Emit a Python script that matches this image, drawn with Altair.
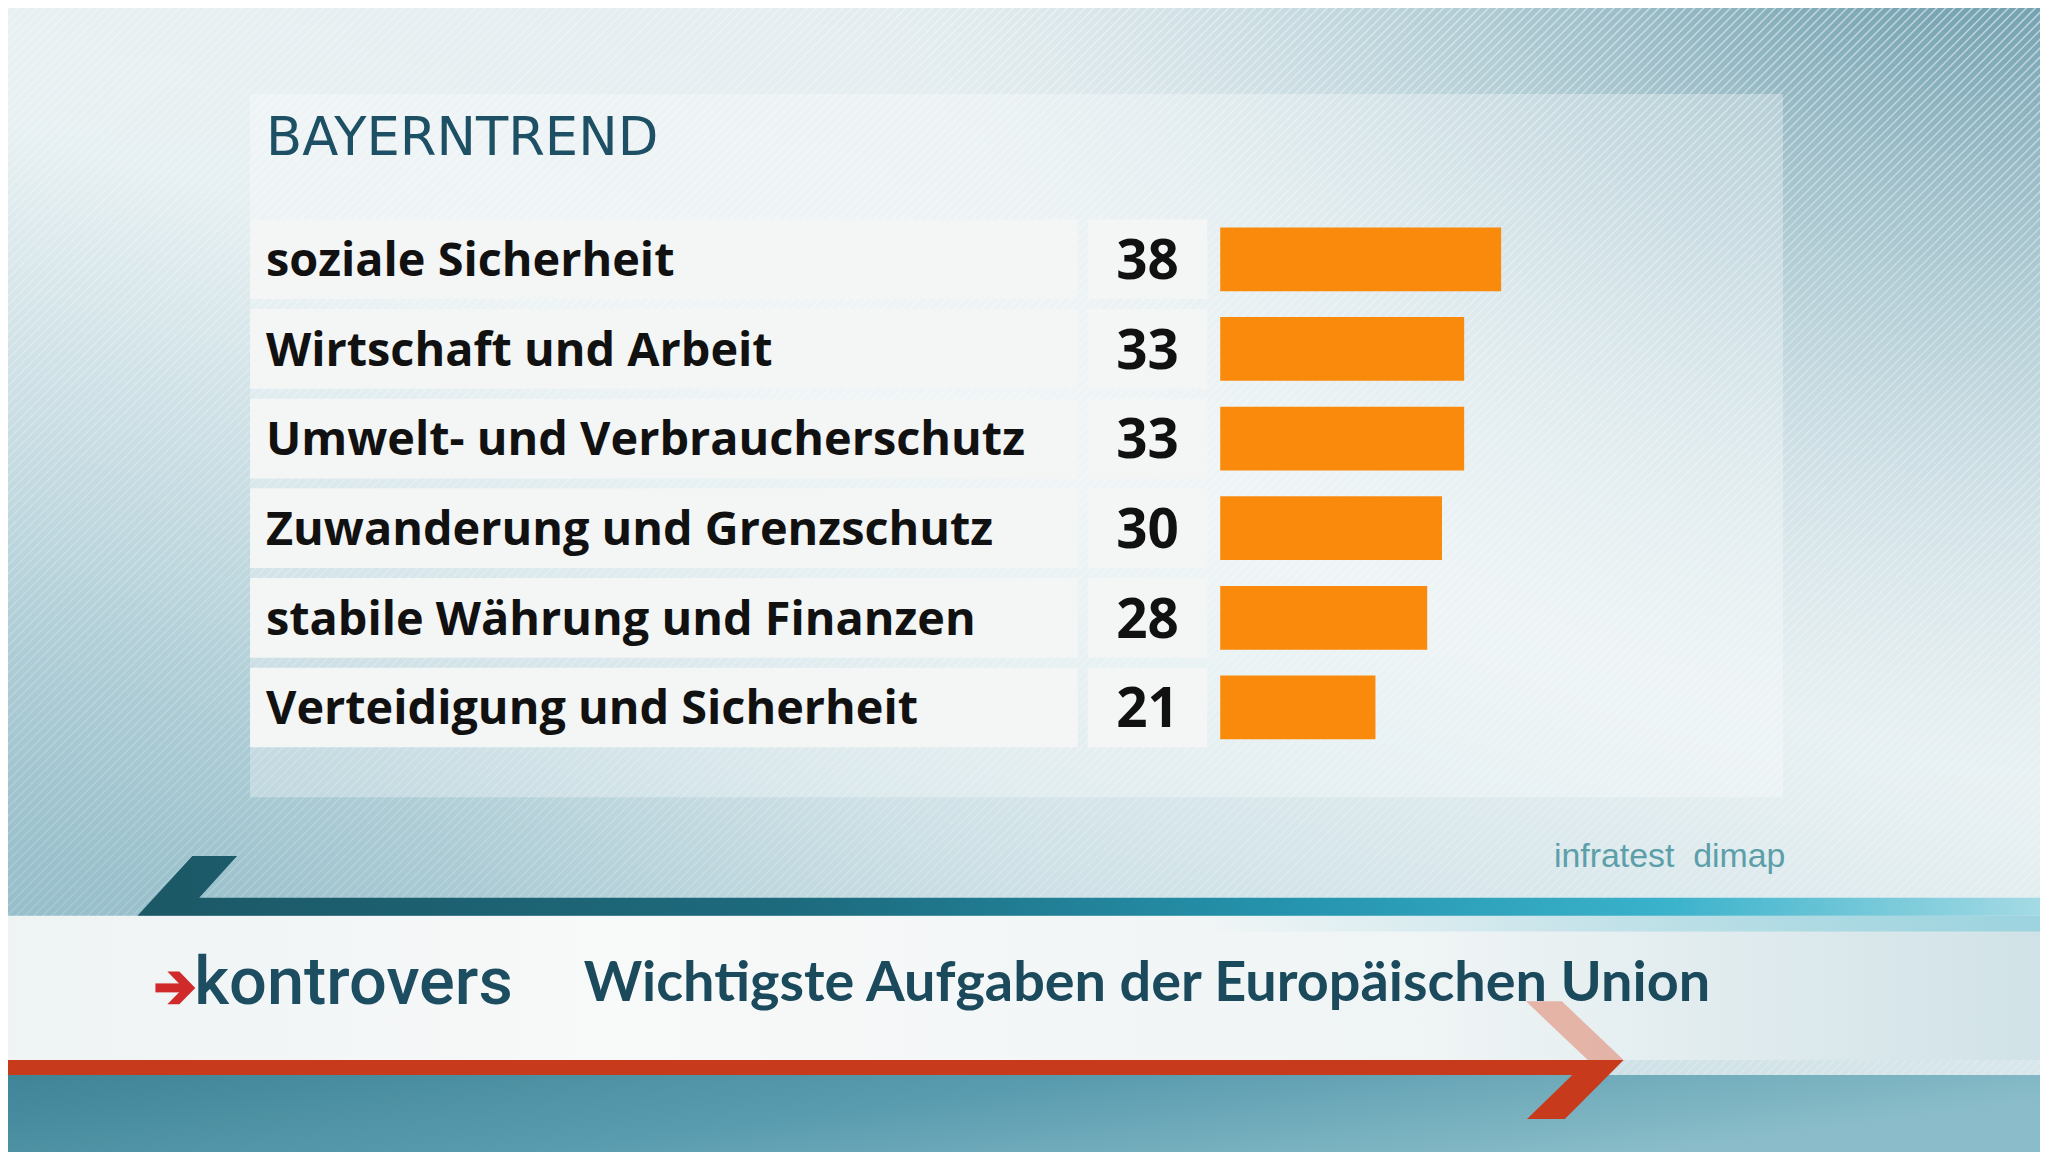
import altair as alt
import pandas as pd

# ---------------- data ----------------
topics = [
    "soziale Sicherheit",
    "Wirtschaft und Arbeit",
    "Umwelt- und Verbraucherschutz",
    "Zuwanderung und Grenzschutz",
    "stabile Währung und Finanzen",
    "Verteidigung und Sicherheit",
]
values = [38, 33, 33, 30, 28, 21]
title_text = "BAYERNTREND"
subtitle_text = "Wichtigste Aufgaben der Europäischen Union"
source_text = "infratest\u00a0 dimap"
brand_text = "kontrovers"

df = pd.DataFrame({"topic": topics, "value": values})
one = pd.DataFrame({"k": [0]})

W, H = 2040, 1144
O = 8  # page margin offset: full-image coord -> chart coord


def c(v):
    return v - O


def poly(pts):
    return "M" + " L".join(f"{c(x)},{c(y)}" for x, y in pts) + " Z"


def shape(path, fill, opacity=1.0):
    return alt.Chart(one).mark_point(
        shape=path, size=4, filled=True, fill=fill, strokeWidth=0, opacity=opacity
    ).encode(x=alt.value(0), y=alt.value(0))


def rect(x0, y0, x1, y1, fill, opacity=1.0):
    return alt.Chart(one).mark_rect(fill=fill, opacity=opacity).encode(
        x=alt.value(c(x0)), x2=alt.value(c(x1)), y=alt.value(c(y0)), y2=alt.value(c(y1))
    )


def lg(stops, x1, y1, x2, y2):
    return alt.LinearGradient(
        gradient="linear",
        stops=[alt.GradientStop(color=col, offset=off) for off, col in stops],
        x1=x1, y1=y1, x2=x2, y2=y2,
    )


def rg(stops, x1, y1, r1, x2, y2, r2):
    return alt.RadialGradient(
        gradient="radial",
        stops=[alt.GradientStop(color=col, offset=off) for off, col in stops],
        x1=x1, y1=y1, r1=r1, x2=x2, y2=y2, r2=r2,
    )


layers = []

# ---------------- background ----------------
layers.append(rect(0, 0, 2056, 1160, lg(
    [(0, "#e1eaed"), (0.45, "#e9f1f3"), (0.75, "#d0e2e7"), (1, "#b0ced6")], 0.7, 0, 0.2, 0.85)))
# teal top-right corner
layers.append(rect(0, 0, 2056, 1160, rg(
    [(0, "rgba(62,120,140,1)"), (0.35, "rgba(95,148,165,0.85)"), (0.7, "rgba(150,190,202,0.35)"),
     (1, "rgba(210,228,234,0)")],
    1, 0, 0, 1, 0, 0.62)))
# bluish bottom-left
layers.append(rect(0, 0, 2056, 1160, rg(
    [(0, "rgba(125,175,190,0.85)"), (0.5, "rgba(150,190,202,0.45)"), (1, "rgba(200,222,228,0)")],
    0, 0.8, 0, 0, 0.8, 0.55)))

# diagonal stripes
stripe_parts = []
step = 9
for s in range(-1200, 2100, step):
    x0 = s
    pts = [(x0, 1160), (x0 + 2.2, 1160), (x0 + 2.2 + 1160, 0), (x0 + 1160, 0)]
    stripe_parts.append("M" + " L".join(f"{c(px)},{c(py)}" for px, py in pts) + " Z")
stripes_path = " ".join(stripe_parts)
layers.append(shape(stripes_path, lg(
    [(0, "rgba(255,255,255,0.7)"), (0.3, "rgba(255,255,255,0.3)"), (1, "rgba(255,255,255,0.1)")],
    1, 0, 0.2, 1)))

# content panel
layers.append(rect(251, 92, 1790, 798, "#ffffff", 0.3))

# ---------------- bottom band ----------------
# white band
layers.append(rect(0, 917, 2056, 1062, lg(
    [(0, "#eef3f4"), (0.3, "#f8f9f9"), (0.7, "#eff4f5"), (1, "#d0e2e7")], 0, 0, 1, 0)))
# light cyan under teal bar (right)
layers.append(rect(1200, 917, 2056, 933, lg(
    [(0, "rgba(150,210,222,0)"), (1, "rgba(150,210,222,0.9)")], 0, 0, 1, 0)))
# lower teal area
layers.append(rect(0, 1077, 2056, 1160, lg(
    [(0, "#3f8597"), (0.5, "#5a9caf"), (1, "#8abdc9")], 0, 0, 1, 0.3)))
# teal bar with slanted start
layers.append(shape(poly([(138, 917), (193, 857), (238, 857), (200, 899), (2056, 899), (2056, 917)]), lg(
    [(0, "#1c5866"), (0.35, "#1d6b7e"), (0.6, "#2593ad"), (0.8, "#3ab2cb"), (1, "#a6dbe5")], 0, 0, 1, 0)))
# red band
layers.append(rect(0, 1062, 1612, 1077, "#c73a1c"))
# arrow head: faded upper arm, solid lower arm
layers.append(shape(poly([(1532, 1003), (1568, 1003), (1630, 1062), (1594, 1062)]), "#e39a88", 0.7))
layers.append(shape(poly([(1594, 1062), (1630, 1062), (1571, 1121), (1533, 1121)]), "#c73a1c"))

# kontrovers logo arrow
layers.append(shape(poly([(156, 985), (184, 985), (184, 994), (156, 994)]), "#d02a2a"))
layers.append(shape(poly([(168, 973), (180, 973), (196, 989.5), (180, 1006), (168, 1006), (184, 989.5)]), "#d02a2a"))

# ---------------- texts ----------------
def text_layer(txt, x, y, size, color, font, weight="normal", align="left"):
    return alt.Chart(pd.DataFrame({"t": [txt]})).mark_text(
        align=align, baseline="alphabetic", fontSize=size, font=font,
        fontWeight=weight, color=color,
    ).encode(x=alt.value(c(x)), y=alt.value(c(y)), text="t:N")


layers.append(text_layer(title_text, 267, 153, 53, "#1d5064", "DejaVu Sans"))
layers.append(text_layer(brand_text, 195, 1006, 67, "#1d4d60", "Roboto", 500))
layers.append(text_layer(subtitle_text, 586, 1003, 56, "#1b4a5d", "Lato", "bold"))
layers.append(text_layer(source_text, 1560, 868, 34, "#5c9fa9", "Liberation Sans Narrow, Liberation Sans"))

# ---------------- data layers ----------------
yscale = alt.Scale(domain=topics, range=[c(213), c(753)], paddingInner=0, paddingOuter=0)
Y = alt.Y("topic:N", sort=topics, scale=yscale, axis=None)

label_boxes = alt.Chart(df).mark_bar(height=80, color="#f4f5f5").encode(
    y=Y, x=alt.value(c(251)), x2=alt.value(c(1082)))
num_boxes = alt.Chart(df).mark_bar(height=80, color="#f4f5f5").encode(
    y=Y, x=alt.value(c(1092)), x2=alt.value(c(1212)))
bars = alt.Chart(df).mark_bar(height=64, color="#f98a0c").encode(
    y=Y,
    x=alt.X("value:Q", scale=alt.Scale(domain=[0, 38], range=[c(1225), c(1507)], nice=False, zero=True), axis=None),
)
labels = alt.Chart(df).mark_text(
    align="left", baseline="alphabetic", dy=17, fontSize=47, font="Open Sans", fontWeight="bold", color="#111111"
).encode(y=Y, x=alt.value(c(267)), text="topic:N")
numbers = alt.Chart(df).mark_text(
    align="center", baseline="alphabetic", dy=20, fontSize=55, font="Open Sans", fontWeight="bold", color="#111111"
).encode(y=Y, x=alt.value(c(1152)), text="value:Q")

layers += [label_boxes, num_boxes, bars, labels, numbers]

chart = alt.layer(*layers).properties(
    width=W, height=H,
    autosize=alt.AutoSizeParams(type="none"),
    padding=0,
    background="#e6eef0",
).configure_view(stroke=None)

chart.save("out.html", embed_options={"renderer": "svg", "actions": False})
